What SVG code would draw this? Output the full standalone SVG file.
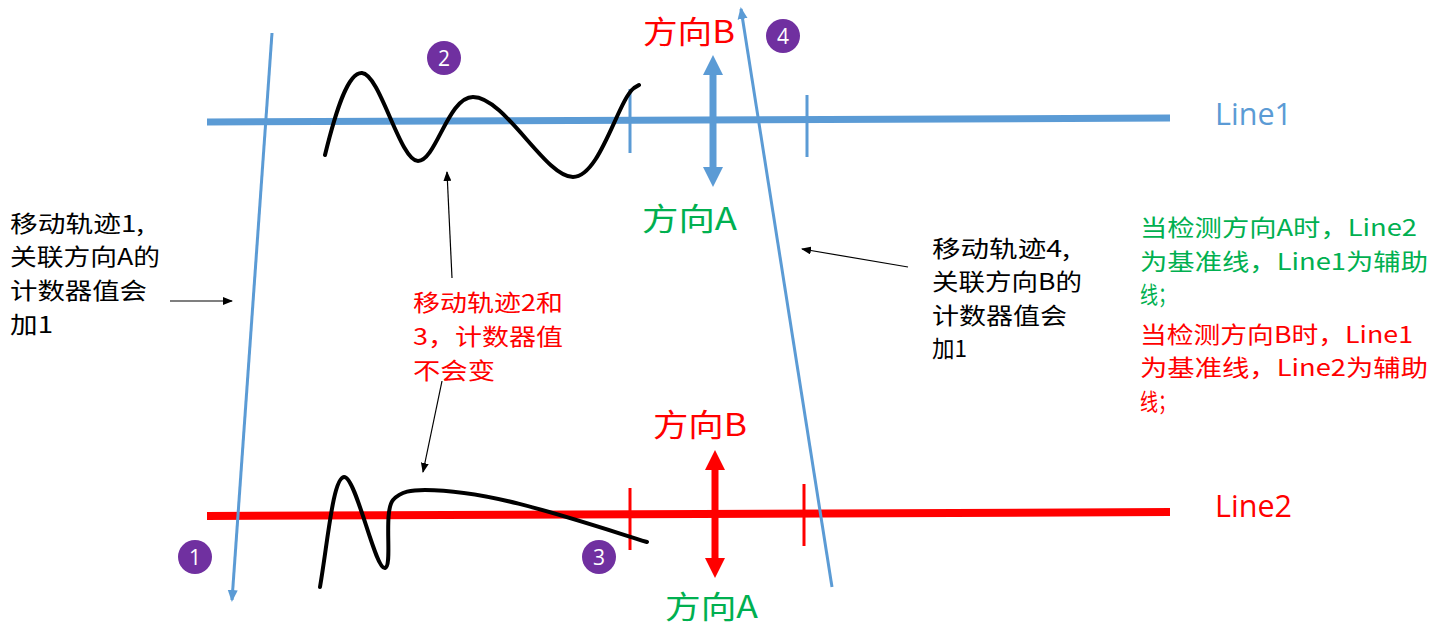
<svg xmlns="http://www.w3.org/2000/svg" width="1449" height="637" viewBox="0 0 1449 637">
<style>
.cjk{font-family:"Noto Sans CJK SC","Microsoft YaHei",sans-serif;}
.lat{font-family:"Open Sans","Noto Sans",sans-serif;}
.blk{fill:#000;}
.red{fill:#FF0000;}
.grn{fill:#00B050;}
.blu{fill:#5B9BD5;}
.ann{stroke:#000;stroke-width:1.2;fill:none;marker-end:url(#ah);}
.wave{stroke:#000;stroke-width:4;fill:none;stroke-linecap:round;}
.badge circle{fill:#7030A0;}
.badge text{fill:#fff;font-family:"Open Sans","Noto Sans",sans-serif;font-size:21px;text-anchor:middle;}
</style>
<defs>
<marker id="ah" markerWidth="10" markerHeight="8" refX="9" refY="4" orient="auto" markerUnits="userSpaceOnUse">
<path d="M0,0 L10,4 L0,8 Z" fill="#000"/>
</marker>
<marker id="bh" markerWidth="12" markerHeight="12" refX="10" refY="6" orient="auto" markerUnits="userSpaceOnUse">
<path d="M0,1 L12,6 L0,11 Z" fill="#5B9BD5"/>
</marker>
</defs>

<rect width="1449" height="637" fill="#fff"/>

<g id="line1">
<line x1="207" y1="122" x2="1170" y2="118" stroke="#5B9BD5" stroke-width="7"/>
<line x1="630" y1="89" x2="630" y2="153" stroke="#5B9BD5" stroke-width="3"/>
<line x1="807" y1="95" x2="807" y2="157" stroke="#5B9BD5" stroke-width="3"/>
<text class="lat blu" x="1215" y="125" font-size="31" textLength="77" lengthAdjust="spacingAndGlyphs">Line1</text>
</g>

<g id="line2">
<line x1="207" y1="516" x2="1170" y2="512" stroke="#FF0000" stroke-width="8"/>
<line x1="630" y1="488" x2="630" y2="550" stroke="#FF0000" stroke-width="3"/>
<line x1="804" y1="484" x2="804" y2="546" stroke="#FF0000" stroke-width="3"/>
<text class="lat red" x="1215" y="517" font-size="31" textLength="77" lengthAdjust="spacingAndGlyphs">Line2</text>
</g>

<g id="wave2">
<path class="wave" d="M325,155 C336,110 348,72 362,73 C380,74 400,161 418,161 C436,161 448,97 473,97 C505,97 545,177 573,177 C600,177 618,100 634,88 L639,85"/>
</g>

<g id="wave3">
<path class="wave" d="M320,587 C328,540 333,478 344,477 C356,476 375,570 385,568 C393,566 383,512 393,500 C401,491 412,490 425,490 C490,490 570,518 647,542"/>
</g>

<g id="dirArrowBlue">
<line x1="713" y1="72" x2="713" y2="170" stroke="#5B9BD5" stroke-width="7"/>
<path d="M703,75 L713,55 L723,75 Z" fill="#5B9BD5"/>
<path d="M703,167 L713,187 L723,167 Z" fill="#5B9BD5"/>
<text class="cjk red" x="643" y="43" font-size="31" textLength="92" lengthAdjust="spacingAndGlyphs">方向B</text>
<text class="cjk grn" x="642" y="230" font-size="31" textLength="95" lengthAdjust="spacingAndGlyphs">方向A</text>
</g>

<g id="dirArrowRed">
<line x1="715" y1="466" x2="715" y2="562" stroke="#FF0000" stroke-width="7"/>
<path d="M705,470 L715,450 L725,470 Z" fill="#FF0000"/>
<path d="M705,558 L715,578 L725,558 Z" fill="#FF0000"/>
<text class="cjk red" x="653" y="436" font-size="31" textLength="94" lengthAdjust="spacingAndGlyphs">方向B</text>
<text class="cjk grn" x="665" y="618" font-size="31" textLength="93" lengthAdjust="spacingAndGlyphs">方向A</text>
</g>

<g id="connectors">
<line x1="272" y1="33" x2="232" y2="600" stroke="#5B9BD5" stroke-width="3" marker-end="url(#bh)"/>
<line x1="832" y1="587" x2="741" y2="9" stroke="#5B9BD5" stroke-width="3" marker-end="url(#bh)"/>
<line class="ann" x1="170" y1="301" x2="232" y2="301"/>
<line class="ann" x1="452" y1="278" x2="447" y2="172"/>
<line class="ann" x1="442" y1="381" x2="423" y2="472"/>
<line class="ann" x1="908" y1="267" x2="802" y2="249"/>
</g>

<g id="badge1" class="badge"><circle cx="195" cy="557" r="17"/><text x="195" y="565">1</text></g>
<g id="badge2" class="badge"><circle cx="444" cy="58" r="17"/><text x="444" y="66">2</text></g>
<g id="badge3" class="badge"><circle cx="599" cy="557" r="17"/><text x="599" y="565">3</text></g>
<g id="badge4" class="badge"><circle cx="783" cy="36" r="17"/><text x="783" y="44">4</text></g>

<g id="note1" class="cjk blk" font-size="23">
<text x="10" y="232" textLength="134" lengthAdjust="spacingAndGlyphs">移动轨迹1,</text>
<text x="10" y="265" textLength="150" lengthAdjust="spacingAndGlyphs">关联方向A的</text>
<text x="10" y="299" textLength="137" lengthAdjust="spacingAndGlyphs">计数器值会</text>
<text x="10" y="333" textLength="43" lengthAdjust="spacingAndGlyphs">加1</text>
</g>

<g id="note23" class="cjk red" font-size="23">
<text x="413" y="311" textLength="150" lengthAdjust="spacingAndGlyphs">移动轨迹2和</text>
<text x="413" y="345" textLength="150" lengthAdjust="spacingAndGlyphs">3，计数器值</text>
<text x="413" y="379" textLength="82" lengthAdjust="spacingAndGlyphs">不会变</text>
</g>

<g id="note4" class="cjk blk" font-size="23">
<text x="932" y="257" textLength="138" lengthAdjust="spacingAndGlyphs">移动轨迹4,</text>
<text x="932" y="290" textLength="150" lengthAdjust="spacingAndGlyphs">关联方向B的</text>
<text x="932" y="324" textLength="135" lengthAdjust="spacingAndGlyphs">计数器值会</text>
<text x="932" y="357" textLength="35" lengthAdjust="spacingAndGlyphs">加1</text>
</g>

<g id="noteRule" class="cjk" font-size="23">
<text class="grn" x="1140" y="236" textLength="277" lengthAdjust="spacingAndGlyphs">当检测方向A时，Line2</text>
<text class="grn" x="1140" y="270" textLength="288" lengthAdjust="spacingAndGlyphs">为基准线，Line1为辅助</text>
<text class="grn" x="1140" y="303" textLength="36" lengthAdjust="spacingAndGlyphs">线；</text>
<text class="red" x="1140" y="343" textLength="273" lengthAdjust="spacingAndGlyphs">当检测方向B时，Line1</text>
<text class="red" x="1140" y="376" textLength="288" lengthAdjust="spacingAndGlyphs">为基准线，Line2为辅助</text>
<text class="red" x="1140" y="410" textLength="36" lengthAdjust="spacingAndGlyphs">线；</text>
</g>
</svg>
